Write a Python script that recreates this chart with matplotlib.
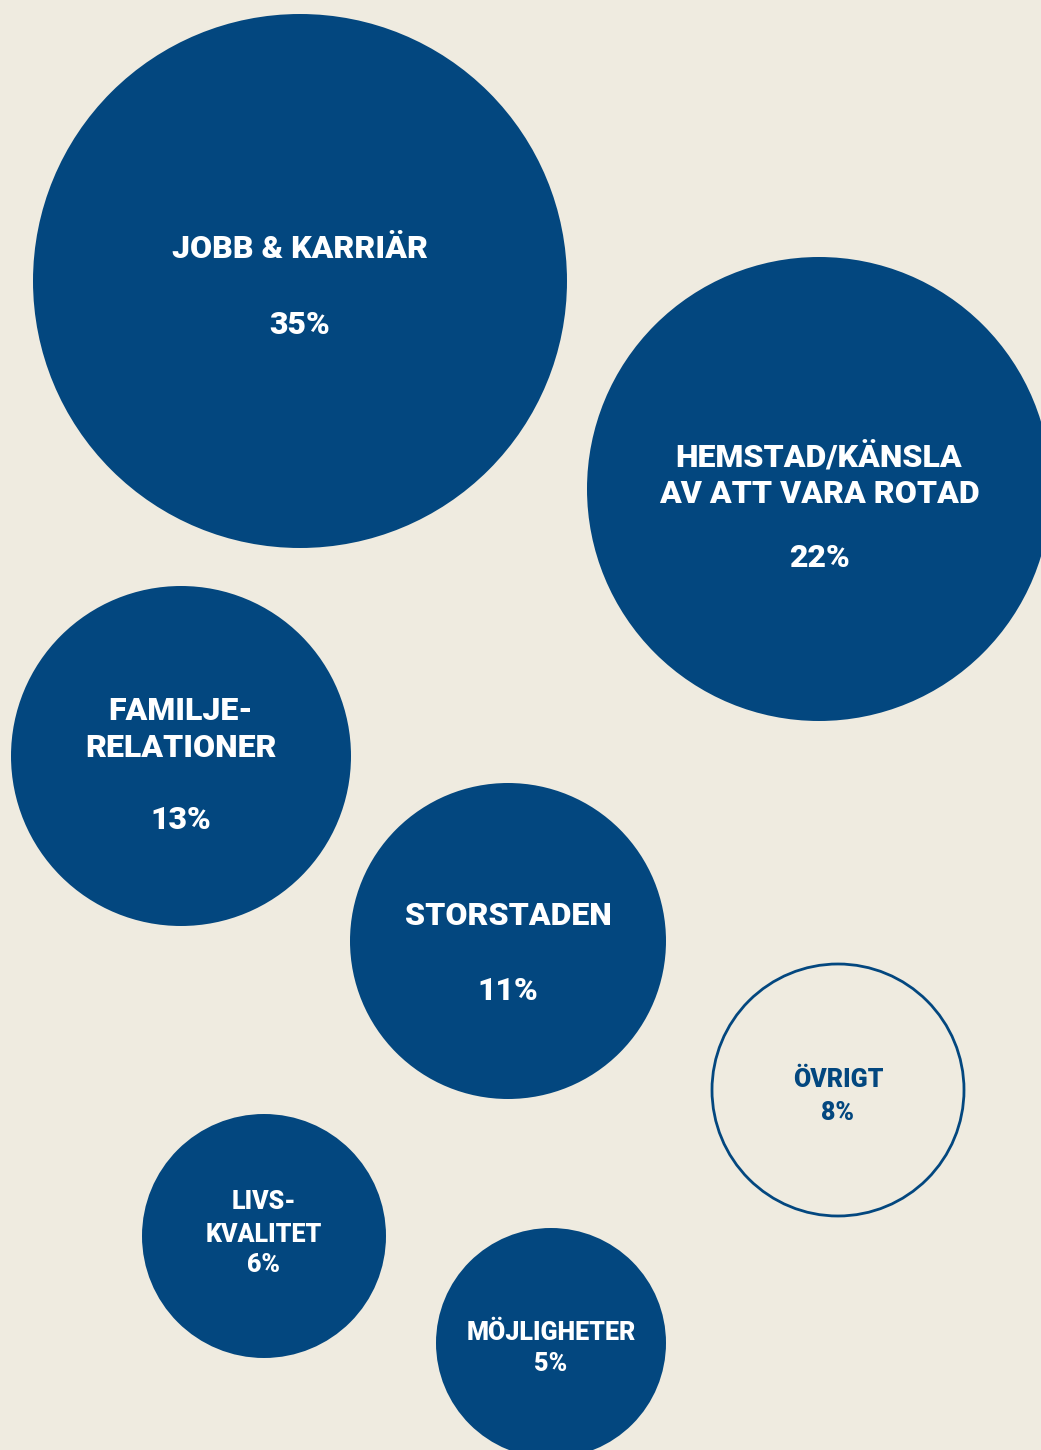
import matplotlib
matplotlib.use("Agg")
import matplotlib.pyplot as plt
from matplotlib.patches import Circle

# ---- data ----
categories = ["JOBB & KARRIÄR", "HEMSTAD/KÄNSLA\nAV ATT VARA ROTAD", "FAMILJE-\nRELATIONER",
              "STORSTADEN", "ÖVRIGT", "LIVS-\nKVALITET", "MÖJLIGHETER"]
values = [35, 22, 13, 11, 8, 6, 5]
filled = [True, True, True, True, False, True, True]

# ---- layout (pixel space) ----
centers_x = [300, 819, 181, 508, 838, 264, 551]
centers_y = [281, 489, 756, 941, 1090, 1236, 1343]
radii = [267, 232, 170, 158, 126, 122, 115]
# baselines of each label line, and of the percentage line
label_baselines = [[258], [466, 503], [720, 757], [925], [1087], [1209, 1242], [1340]]
pct_baseline = [334, 567, 829, 1000, 1120, 1272, 1371]
font_sizes = [23, 23, 23, 23, 18, 18, 18]

BG = "#EFEBE0"
BLUE = "#03477F"
FAM = ["Roboto", "DejaVu Sans"]

W, H = 1041, 1450
fig = plt.figure(figsize=(W / 100, H / 100), dpi=100, facecolor=BG)
ax = fig.add_axes([0, 0, 1, 1])
ax.set_facecolor(BG)
ax.set_xlim(0, W)
ax.set_ylim(H, 0)
ax.set_aspect("equal")
ax.axis("off")

for i, cat in enumerate(categories):
    if filled[i]:
        c = Circle((centers_x[i], centers_y[i]), radii[i], facecolor=BLUE, edgecolor="none")
        tc = "white"
    else:
        c = Circle((centers_x[i], centers_y[i]), radii[i], facecolor="none", edgecolor=BLUE, lw=2)
        tc = BLUE
    ax.add_patch(c)
    for line, yb in zip(cat.split("\n"), label_baselines[i]):
        ax.text(centers_x[i], yb, line, ha="center", va="baseline", color=tc,
                fontsize=font_sizes[i], fontweight="black", family=FAM)
    ax.text(centers_x[i], pct_baseline[i], f"{values[i]}%", ha="center", va="baseline", color=tc,
            fontsize=font_sizes[i], fontweight="black", family=FAM)

fig.savefig("out.png", dpi=100, facecolor=BG)
